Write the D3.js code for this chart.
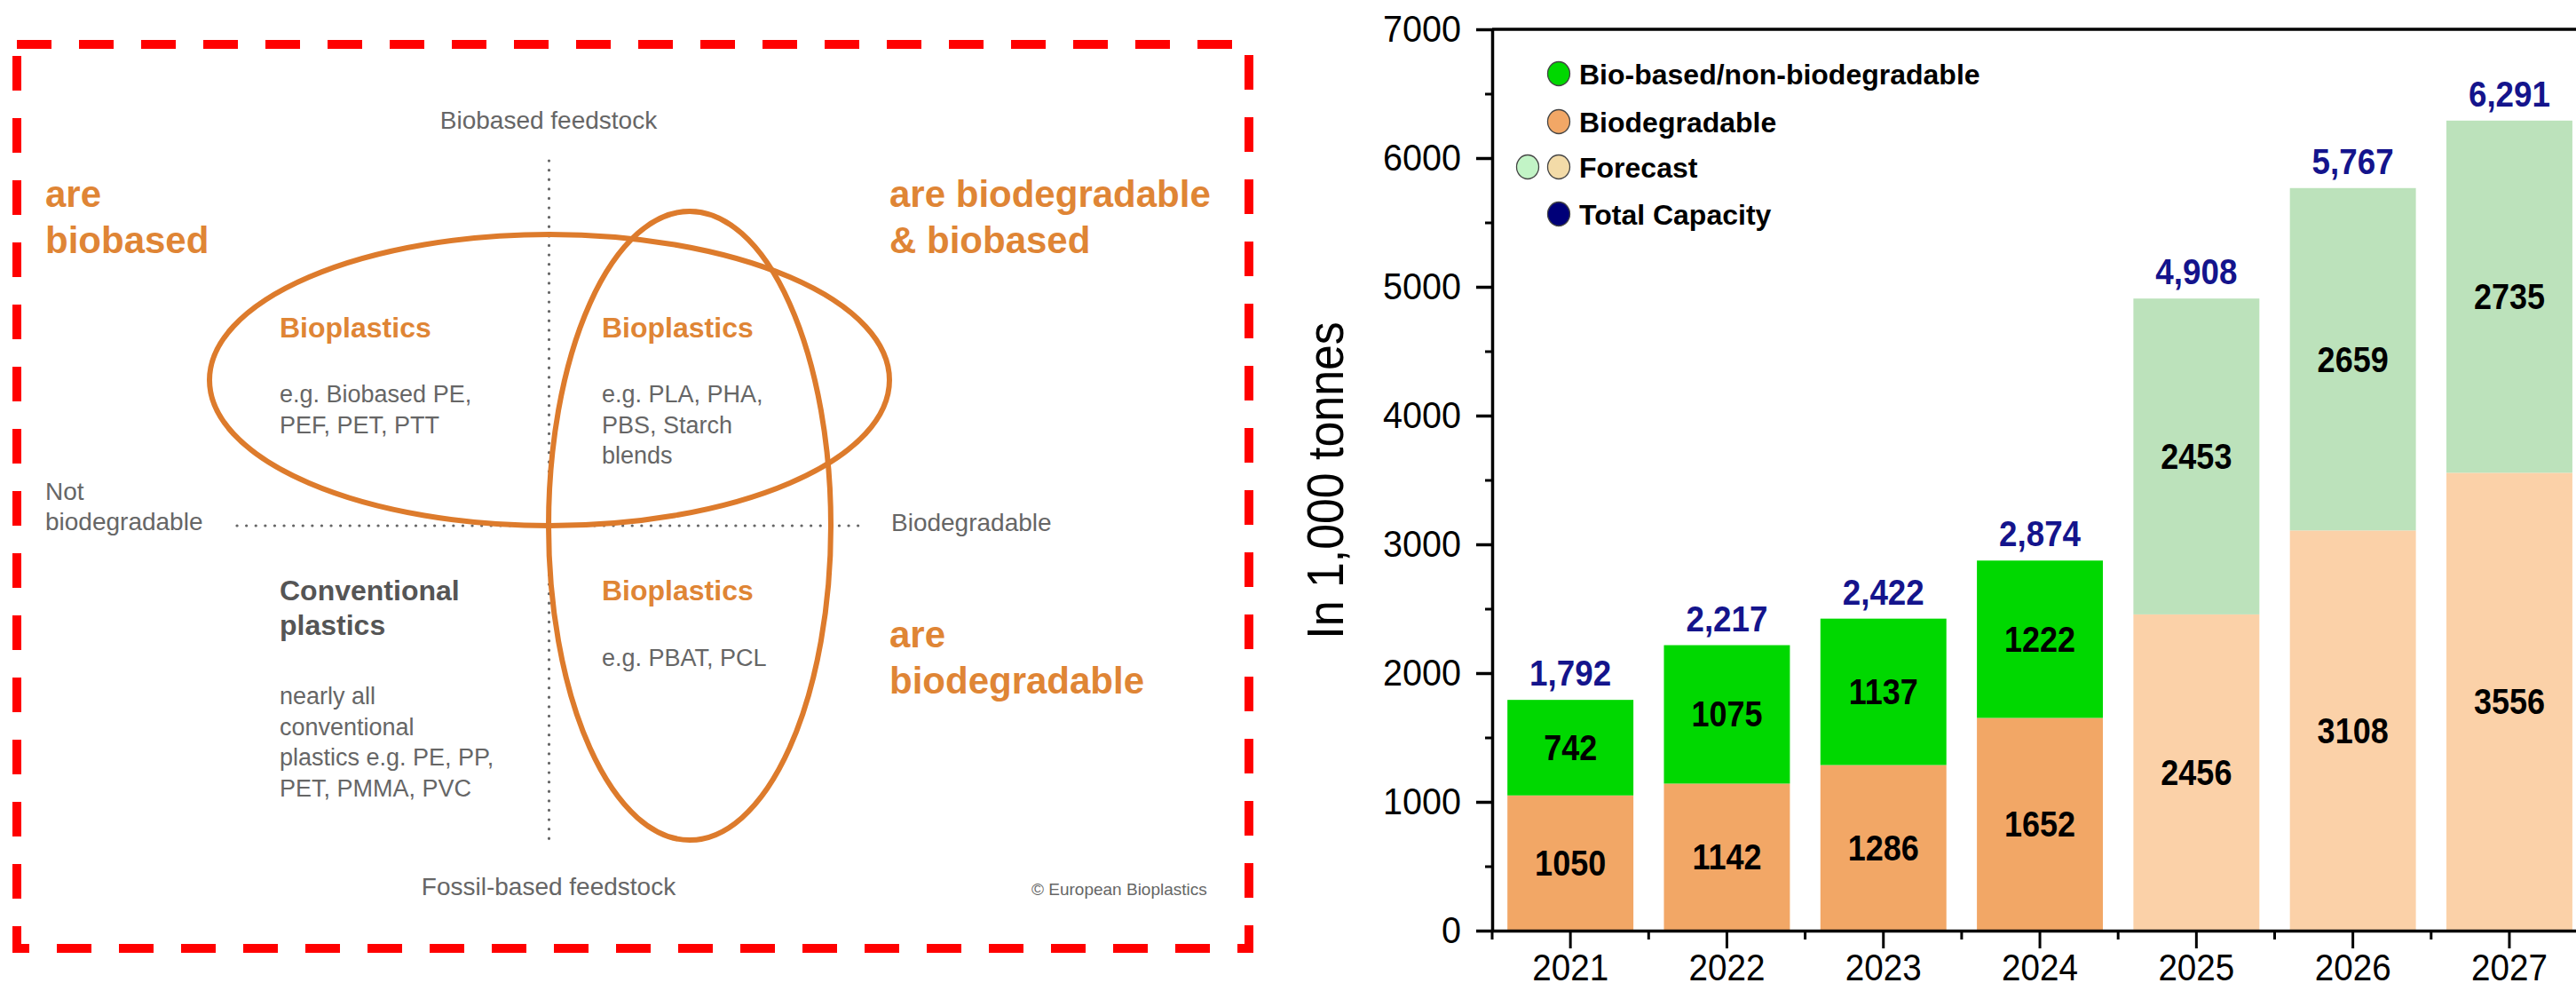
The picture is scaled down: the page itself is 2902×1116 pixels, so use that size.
<!DOCTYPE html>
<html>
<head>
<meta charset="utf-8">
<script src="https://cdn.jsdelivr.net/npm/d3@7"></script>
<style>
  html, body { margin: 0; padding: 0; background: #fff; }
  svg { display: block; font-family: "Liberation Sans", Arial, Helvetica, sans-serif; }
</style>
</head>
<body>
<svg id="chart" width="2902" height="1116"></svg>
<script>
// ---------------- DATA ----------------
const years = ['2021', '2022', '2023', '2024', '2025', '2026', '2027'];
const biodegradable = [1050, 1142, 1286, 1652, 2456, 3108, 3556];
const biobasedNonBio = [742, 1075, 1137, 1222, 2453, 2659, 2735];
const totalLabels = ['1,792', '2,217', '2,422', '2,874', '4,908', '5,767', '6,291'];
const isForecast = [false, false, false, false, true, true, true];
const yTickValues = [0, 1000, 2000, 3000, 4000, 5000, 6000, 7000];
const yMinorValues = [500, 1500, 2500, 3500, 4500, 5500, 6500];
const yAxisTitle = 'In 1,000 tonnes';
const legendLabels = ['Bio-based/non-biodegradable', 'Biodegradable', 'Forecast', 'Total Capacity'];

// diagram texts
const axisWords = ['Biobased feedstock', 'Fossil-based feedstock', 'Not', 'biodegradable', 'Biodegradable'];
const cornerHeadlines = [['are', 'biobased'], ['are biodegradable', '& biobased'], ['are', 'biodegradable']];
const quadrantTitles = [['Bioplastics'], ['Bioplastics'], ['Conventional', 'plastics'], ['Bioplastics']];
const quadrantExamples = [
  ['e.g. Biobased PE,', 'PEF, PET, PTT'],
  ['e.g. PLA, PHA,', 'PBS, Starch', 'blends'],
  ['nearly all', 'conventional', 'plastics e.g. PE, PP,', 'PET, PMMA, PVC'],
  ['e.g. PBAT, PCL']
];
const copyrightText = '\u00A9 European Bioplastics';

// ---------------- STYLES ----------------
const C = {
  green: '#00d800', orange: '#f2a766',
  fGreen: '#bce2bb', fOrange: '#fbd1a8',
  legFGreen: '#c2f4c6', legFOrange: '#f3dba8',
  navy: '#14148c', legNavy: '#000078',
  diagOrange: '#dd7b2c', textOrange: '#df8535',
  gray: '#666', darkGray: '#555', red: '#ff0000'
};

const svg = d3.select('#chart');

// ================= LEFT: DIAGRAM =================
const L = svg.append('g');

// red dashed frame
L.append('rect')
  .attr('x', 19).attr('y', 50).attr('width', 1388).attr('height', 1018)
  .attr('fill', 'none').attr('stroke', C.red).attr('stroke-width', 10)
  .attr('stroke-dasharray', '39 31');

// dotted axes
L.append('line').attr('x1', 618.5).attr('x2', 618.5).attr('y1', 181).attr('y2', 947)
  .attr('stroke', C.gray).attr('stroke-width', 3.2).attr('stroke-linecap', 'round')
  .attr('stroke-dasharray', '0.1 10.5');
L.append('line').attr('x1', 267).attr('x2', 972).attr('y1', 592).attr('y2', 592)
  .attr('stroke', C.gray).attr('stroke-width', 3.2).attr('stroke-linecap', 'round')
  .attr('stroke-dasharray', '0.1 10.5');

// ellipses
L.append('ellipse').attr('cx', 619).attr('cy', 428).attr('rx', 383).attr('ry', 164)
  .attr('fill', 'none').attr('stroke', C.diagOrange).attr('stroke-width', 6);
L.append('ellipse').attr('cx', 777).attr('cy', 592).attr('rx', 159).attr('ry', 354)
  .attr('fill', 'none').attr('stroke', C.diagOrange).attr('stroke-width', 6);

function lines(g, arr, x, y0, dy, size, weight, fill, anchor) {
  arr.forEach((t, i) => {
    g.append('text').attr('x', x).attr('y', y0 + i * dy)
      .attr('font-size', size).attr('font-weight', weight).attr('fill', fill)
      .attr('text-anchor', anchor || 'start').text(t);
  });
}

// axis words
lines(L, [axisWords[0]], 618, 145, 0, 28, 'normal', C.gray, 'middle');
lines(L, [axisWords[1]], 618, 1008, 0, 28, 'normal', C.gray, 'middle');
lines(L, [axisWords[2], axisWords[3]], 51, 563, 34, 28, 'normal', C.gray);
lines(L, [axisWords[4]], 1004, 598, 0, 28, 'normal', C.gray);

// corner headlines
lines(L, cornerHeadlines[0], 51, 233, 52, 42, 'bold', C.textOrange);
lines(L, cornerHeadlines[1], 1002, 233, 52, 42, 'bold', C.textOrange);
lines(L, cornerHeadlines[2], 1002, 729, 52, 42, 'bold', C.textOrange);

// quadrant titles and examples
const qPos = [[315, 380, 453], [678, 380, 453], [315, 676, 793], [678, 676, 750]];
quadrantTitles.forEach((t, i) => {
  const col = i === 2 ? C.darkGray : C.textOrange;
  lines(L, t, qPos[i][0], qPos[i][1], 39, 32, 'bold', col);
  lines(L, quadrantExamples[i], qPos[i][0], qPos[i][2], 34.5, 27, 'normal', C.gray);
});

// copyright
L.append('text').attr('x', 1162).attr('y', 1008).attr('font-size', 19)
  .attr('fill', C.gray).text(copyrightText);

// ================= RIGHT: BAR CHART =================
const axisX = 1681, y0px = 1048, y7000px = 33;
const step = 176.3;
const x = d3.scaleBand().domain(years)
  .range([axisX, axisX + step * years.length])
  .paddingInner(0.195).paddingOuter(0.0975);
const y = d3.scaleLinear().domain([0, 7000]).range([y0px, y7000px]);

const R = svg.append('g');

const rows = years.map((yr, i) => ({
  year: yr, bio: biodegradable[i], bb: biobasedNonBio[i],
  total: totalLabels[i], fc: isForecast[i]
}));

// bars
const barG = R.append('g');
barG.selectAll('rect.bio').data(rows).join('rect').attr('class', 'bio')
  .attr('x', d => x(d.year)).attr('width', x.bandwidth())
  .attr('y', d => y(d.bio)).attr('height', d => y(0) - y(d.bio))
  .attr('fill', d => d.fc ? C.fOrange : C.orange);
barG.selectAll('rect.bb').data(rows).join('rect').attr('class', 'bb')
  .attr('x', d => x(d.year)).attr('width', x.bandwidth())
  .attr('y', d => y(d.bio + d.bb)).attr('height', d => y(d.bio) - y(d.bio + d.bb))
  .attr('fill', d => d.fc ? C.fGreen : C.green);

// scaled text helper
function sText(g, cx, cy, str, size, weight, fill, sx) {
  g.append('g').attr('transform', `translate(${cx},${cy})`)
    .append('text').attr('transform', `scale(${sx},1)`)
    .attr('text-anchor', 'middle').attr('font-size', size)
    .attr('font-weight', weight).attr('fill', fill).text(str);
}

// inside labels
rows.forEach(d => {
  const cx = x(d.year) + x.bandwidth() / 2;
  sText(R, cx, y(d.bio / 2) + 14, String(d.bio), 40, 'bold', '#000', 0.9);
  sText(R, cx, y(d.bio + d.bb / 2) + 14, String(d.bb), 40, 'bold', '#000', 0.9);
  sText(R, cx, y(d.bio + d.bb) - 16, d.total, 40, 'bold', C.navy, 0.92);
});

// y axis
const yAxis = R.append('g').attr('transform', `translate(${axisX},0)`)
  .call(d3.axisLeft(y).tickValues(yTickValues).tickFormat(d3.format('d'))
    .tickSize(18).tickSizeOuter(0).tickPadding(17));
yAxis.select('.domain').attr('stroke', '#000').attr('stroke-width', 3.5);
yAxis.selectAll('.tick line').attr('stroke', '#000').attr('stroke-width', 3.5);
yAxis.selectAll('.tick text')
  .attr('font-family', '"Liberation Sans", Arial, sans-serif')
  .attr('font-size', 43).attr('fill', '#000')
  .attr('x', -35 / 0.92).attr('transform', 'scale(0.92,1)');
const yMinor = R.append('g').attr('transform', `translate(${axisX},0)`)
  .call(d3.axisLeft(y).tickValues(yMinorValues).tickSize(8).tickFormat(''));
yMinor.select('.domain').remove();
yMinor.selectAll('.tick line').attr('stroke', '#000').attr('stroke-width', 3);

// top frame line
R.append('line').attr('x1', axisX).attr('x2', 2902)
  .attr('y1', y(7000)).attr('y2', y(7000))
  .attr('stroke', '#000').attr('stroke-width', 3.5);

// x axis
const xAxis = R.append('g').attr('transform', `translate(0,${y0px})`)
  .call(d3.axisBottom(x).tickSize(20).tickSizeOuter(0));
xAxis.select('.domain').attr('stroke', '#000').attr('stroke-width', 3.5);
xAxis.selectAll('.tick line').attr('stroke', '#000').attr('stroke-width', 3);
xAxis.selectAll('.tick text')
  .attr('font-family', '"Liberation Sans", Arial, sans-serif')
  .attr('font-size', 42).attr('fill', '#000')
  .attr('y', 56).attr('dy', 0).attr('transform', 'scale(0.92,1)')
  .attr('x', 0);
// minor x ticks at band boundaries
xAxis.selectAll('line.minor').data(years).join('line').attr('class', 'minor')
  .attr('x1', d => x(d) + x.bandwidth() / 2 - x.step() / 2)
  .attr('x2', d => x(d) + x.bandwidth() / 2 - x.step() / 2)
  .attr('y1', 0).attr('y2', 10)
  .attr('stroke', '#000').attr('stroke-width', 3);

// y axis title
R.append('g').attr('transform', `translate(1513,541) rotate(-90)`)
  .append('text').attr('transform', 'scale(0.91,1)')
  .attr('text-anchor', 'middle').attr('font-size', 57).attr('fill', '#000')
  .text(yAxisTitle);

// legend
const legX = 1756, legTextX = 1779;
const legRowsY = [83, 137, 188, 241];
const legCircles = [
  [{ cx: legX, fill: C.green }],
  [{ cx: legX, fill: C.orange }],
  [{ cx: legX - 35, fill: C.legFGreen }, { cx: legX, fill: C.legFOrange }],
  [{ cx: legX, fill: C.legNavy }]
];
const legG = R.append('g');
legendLabels.forEach((lab, i) => {
  legCircles[i].forEach(c => {
    legG.append('ellipse').attr('cx', c.cx).attr('cy', legRowsY[i])
      .attr('rx', 12.5).attr('ry', 13.5).attr('fill', c.fill)
      .attr('stroke', '#444').attr('stroke-width', 1.3);
  });
  legG.append('text').attr('x', legTextX).attr('y', legRowsY[i] + 11.5)
    .attr('font-size', 32).attr('font-weight', 'bold').attr('fill', '#000')
    .text(lab);
});
</script>
</body>
</html>
